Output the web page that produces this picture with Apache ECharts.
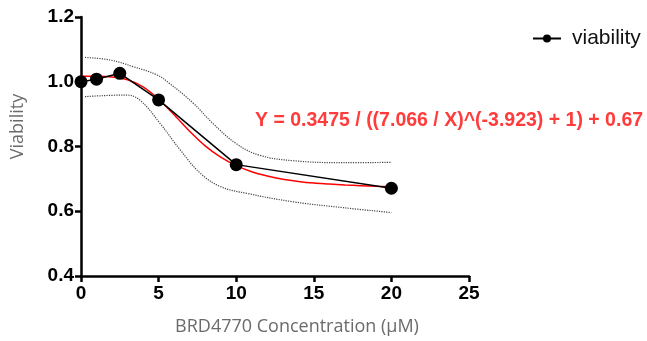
<!DOCTYPE html>
<html>
<head>
<meta charset="utf-8">
<script src="https://cdn.jsdelivr.net/npm/echarts@6/dist/echarts.min.js"></script>
<style>html,body{margin:0;padding:0;background:#fff}#c{width:647px;height:341px}</style>
</head>
<body>
<div id="c"></div>
<script>
// Measured data points
const concX = [0, 1, 2.5, 5, 10, 20];
const viability = [1.0, 1.008, 1.026, 0.944, 0.744, 0.671];
// Fitted curve
const fitX = [0, 1, 2, 3, 4, 5, 6, 7, 8, 9, 10, 11, 12, 13, 14, 15, 16, 17, 18, 19, 20];
const fitY = [1.017, 1.017, 1.015, 1.006, 0.984, 0.946, 0.898, 0.847, 0.802, 0.767, 0.741, 0.722, 0.709, 0.699, 0.692, 0.687, 0.684, 0.681, 0.679, 0.677, 0.676];
// Confidence band upper
const upperX = [0.26, 1.9, 3.4, 4.9, 5.7, 7.25, 8.5, 10.0, 11.5, 13.7, 16.9, 20];
const upperY = [1.075, 1.067, 1.046, 1.021, 0.995, 0.933, 0.871, 0.809, 0.773, 0.756, 0.750, 0.751];
// Confidence band lower
const lowerX = [0.26, 2.9, 3.8, 5.1, 6.4, 7.7, 9.0, 10.7, 13.7, 16.9, 20];
const lowerY = [0.954, 0.959, 0.943, 0.871, 0.789, 0.717, 0.676, 0.655, 0.629, 0.611, 0.596];
const xTicks = [0, 5, 10, 15, 20, 25];
const yTicks = [0.4, 0.6, 0.8, 1.0, 1.2];
const equation = 'Y = 0.3475 / ((7.066 / X)^(-3.923) + 1) + 0.67';

const zip = (a, b) => a.map((v, i) => [v, b[i]]);
const chart = echarts.init(document.getElementById('c'), null, {renderer: 'canvas'});
chart.setOption({
  animation: false,
  backgroundColor: '#fff',
  grid: {left: 81, right: 178, top: 17, bottom: 65, containLabel: false},
  title: {
    text: equation, left: 250, top: 106,
    textStyle: {color: '#ff3b3b', fontSize: 19.5, fontWeight: 'bold', fontFamily: 'Liberation Sans, Arial'}
  },
  legend: {
    data: ['viability'], left: 527, top: 23, itemWidth: 28, itemHeight: 10, itemGap: 10,
    textStyle: {fontSize: 21, color: '#111', fontFamily: 'Liberation Sans, Arial', padding: [0, 0, 0, 6]}
  },
  xAxis: {
    type: 'value', min: xTicks[0], max: xTicks[xTicks.length - 1], interval: 5,
    name: 'BRD4770 Concentration (μM)', nameLocation: 'middle', nameGap: 42,
    nameTextStyle: {color: '#6b6b6b', fontSize: 18, fontFamily: 'Open Sans', padding: [0, 0, 0, 44]},
    axisLine: {show: true, lineStyle: {color: '#000', width: 2.5}},
    axisTick: {show: true, length: 6, lineStyle: {color: '#000', width: 2.5}},
    axisLabel: {color: '#000', fontSize: 19, fontWeight: 'bold', fontFamily: 'Liberation Sans, Arial', margin: 8},
    splitLine: {show: false}
  },
  yAxis: {
    type: 'value', min: yTicks[0], max: yTicks[yTicks.length - 1], interval: 0.2,
    name: 'Viability', nameLocation: 'middle', nameGap: 54,
    nameTextStyle: {color: '#6b6b6b', fontSize: 18, fontFamily: 'Open Sans', padding: [0, 0, 0, 40]},
    axisLine: {show: true, lineStyle: {color: '#000', width: 2.5}},
    axisTick: {show: true, length: 6, lineStyle: {color: '#000', width: 2.5}},
    axisLabel: {color: '#000', fontSize: 19, fontWeight: 'bold', fontFamily: 'Liberation Sans, Arial', margin: 7,
      formatter: v => v.toFixed(1)},
    splitLine: {show: false}
  },
  series: [
    {name: 'upper', type: 'line', data: zip(upperX, upperY), smooth: 0.4, symbol: 'none',
      lineStyle: {color: '#444', width: 1.2, type: 'dotted'}, z: 1},
    {name: 'lower', type: 'line', data: zip(lowerX, lowerY), smooth: 0.4, symbol: 'none',
      lineStyle: {color: '#444', width: 1.2, type: 'dotted'}, z: 1},
    {name: 'fit', type: 'line', data: zip(fitX, fitY), smooth: 0.3, symbol: 'none',
      lineStyle: {color: '#ff0000', width: 1.5}, z: 2},
    {name: 'viability', type: 'line', data: zip(concX, viability), symbol: 'circle', symbolSize: 13,
      itemStyle: {color: '#000'}, lineStyle: {color: '#000', width: 1.5}, z: 3}
  ]
});
</script>
</body>
</html>
